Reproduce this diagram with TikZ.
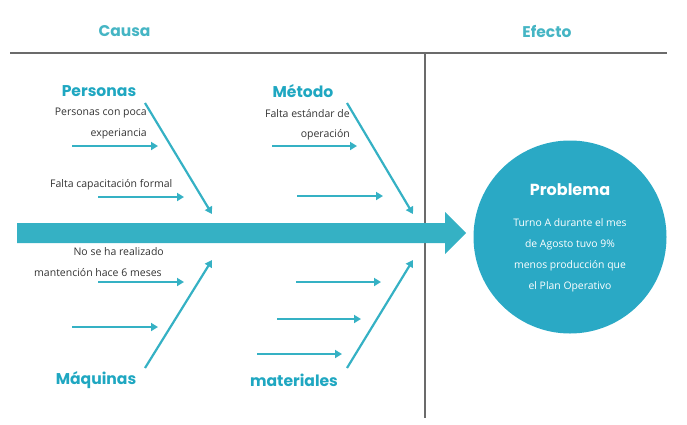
\documentclass[tikz,border=0pt]{standalone}
\usepackage{fontspec}
\setmainfont{Open Sans}
\newfontfamily\pop{Poppins}
\usetikzlibrary{arrows.meta}
\definecolor{teal1}{HTML}{35B1C4}
\definecolor{tealc}{HTML}{2AA9C5}
\definecolor{headc}{HTML}{45B5C4}
\definecolor{catc}{HTML}{1FA7C1}
\definecolor{linec}{HTML}{6B6B6B}
\definecolor{txt}{HTML}{333333}
\tikzset{
  frame/.style={draw=linec,line width=2.8pt},
  bone/.style={draw=teal1,line width=2.2pt,-{Triangle[length=7pt,width=8pt]}},
  twig/.style={draw=teal1,line width=2.4pt,-{Triangle[length=7pt,width=8pt]}},
  head/.style={text=headc,font=\pop\bfseries\fontsize{15.5}{17}\selectfont,inner sep=0pt},
  cat/.style={text=catc,font=\pop\bfseries\fontsize{15.6}{17}\selectfont,inner sep=0pt},
  cause/.style={text=txt,font=\fontsize{10.5}{12}\selectfont,inner sep=0pt},
  ctext/.style={text=white,font=\fontsize{10.4}{21}\selectfont,align=center,inner sep=0pt}
}
\begin{document}
\begin{tikzpicture}[x=1pt,y=-1pt]
\useasboundingbox (0,0) rectangle (687,424);
% frame
\coordinate (fl) at (10,53);
\coordinate (fr) at (667,53);
\coordinate (vt) at (425,53);
\coordinate (vb) at (425,418);
\draw[frame] (fl) -- (fr);
\draw[frame] (vt) -- (vb);
\node[head] (causa) at (124.5,31) {Causa};
\node[head] (efecto) at (547,31) {Efecto};
% main arrow
\fill[teal1] (17,223) -- (445,223) -- (445,212) -- (466,233) -- (445,254) -- (445,243) -- (17,243) -- cycle;
% circle
\node[circle,fill=tealc,minimum size=193pt,inner sep=0pt] (prob) at (570,237) {};
\node[text=white,font=\pop\bfseries\fontsize{16}{18}\selectfont,inner sep=0pt] (probt) at (570,190) {Problema};
\node[ctext,anchor=north] (probx) at (570,218) {Turno A durante el mes\\de Agosto tuvo 9\%\\menos producción que\\el Plan Operativo};
% Personas
\node[cat] (personas) at (99,91) {Personas};
\coordinate (p1) at (145,103);
\coordinate (p2) at (212,214);
\draw[bone] (p1) -- (p2);
\node[cause,anchor=east] (pc1) at (147,113) {Personas con poca};
\node[cause,anchor=east] (pc2) at (147,134) {experiancia};
\coordinate (pa1s) at (72,146); \coordinate (pa1e) at (158,146);
\draw[twig] (pa1s) -- (pa1e);
\node[cause,anchor=west] (pc3) at (50,185) {Falta capacitación formal};
\coordinate (pa2s) at (98,197); \coordinate (pa2e) at (184,197);
\draw[twig] (pa2s) -- (pa2e);
% Metodo
\node[cat] (metodo) at (303,91) {Método};
\coordinate (m1) at (347,103);
\coordinate (m2) at (413,214);
\draw[bone] (m1) -- (m2);
\node[cause,anchor=east] (mc1) at (350,114) {Falta estándar de};
\node[cause,anchor=east] (mc2) at (350,135) {operación};
\coordinate (ma1s) at (272,146); \coordinate (ma1e) at (357,146);
\draw[twig] (ma1s) -- (ma1e);
\coordinate (ma2s) at (297,196); \coordinate (ma2e) at (383,196);
\draw[twig] (ma2s) -- (ma2e);
% Maquinas
\node[cat] (maquinas) at (96,380) {Máquinas};
\coordinate (q1) at (145,368);
\coordinate (q2) at (212,260);
\draw[bone] (q1) -- (q2);
\node[cause,anchor=east] (qc1) at (164,252) {No se ha realizado};
\node[cause,anchor=west] (qc2) at (34,273) {mantención hace 6 meses};
\coordinate (qa1s) at (98,282); \coordinate (qa1e) at (184,282);
\draw[twig] (qa1s) -- (qa1e);
\coordinate (qa2s) at (72,327); \coordinate (qa2e) at (158,327);
\draw[twig] (qa2s) -- (qa2e);
% materiales
\node[cat] (materiales) at (294,380) {materiales};
\coordinate (t1) at (347,368);
\coordinate (t2) at (413,260);
\draw[bone] (t1) -- (t2);
\coordinate (ta1s) at (296,282); \coordinate (ta1e) at (381,282);
\draw[twig] (ta1s) -- (ta1e);
\coordinate (ta2s) at (277,319); \coordinate (ta2e) at (361,319);
\draw[twig] (ta2s) -- (ta2e);
\coordinate (ta3s) at (257,354); \coordinate (ta3e) at (342,354);
\draw[twig] (ta3s) -- (ta3e);
\end{tikzpicture}
\end{document}
